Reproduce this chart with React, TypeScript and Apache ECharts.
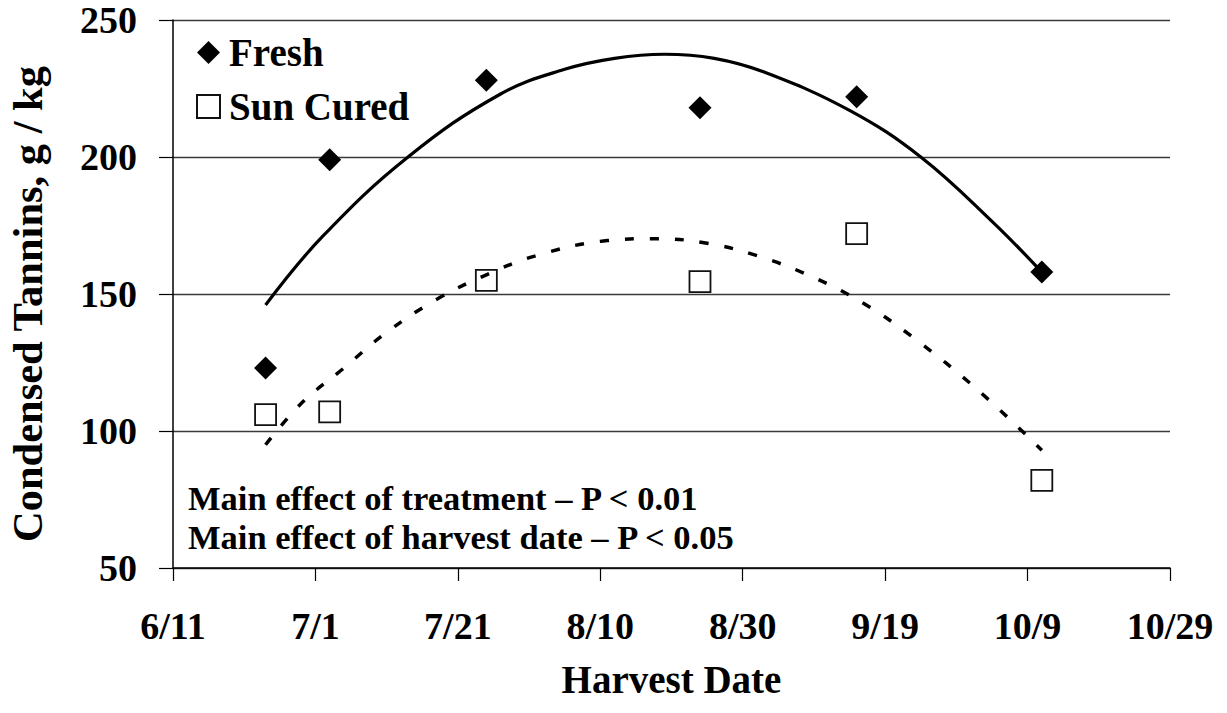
import React, { useEffect, useRef } from "react";
import * as echarts from "echarts";

// ---- data ----
const axisTickDates = ["6/11", "7/1", "7/21", "8/10", "8/30", "9/19", "10/9", "10/29"];
const yTicks = [50, 100, 150, 200, 250];

const harvestDates = ["6/24", "7/3", "7/25", "8/24", "9/15", "10/11"];
const freshValues = [123, 199, 228, 218, 222, 158];
const sunCuredValues = [106, 107, 155, 154.5, 172, 82];

// polynomial trend lines as drawn in the reference
const freshTrendDates = ["6/24", "7/2", "7/14", "7/27", "8/5", "8/12", "8/19", "8/26", "9/2", "9/14", "9/24", "10/4", "10/11"];
const freshTrendValues = [146, 171, 200, 223, 232, 236, 237.5, 236, 231, 217, 200, 176.5, 158];
const sunTrendDates = ["6/24", "6/29", "7/5", "7/11", "7/18", "7/25", "8/1", "8/11", "8/18", "8/25", "9/1", "9/9", "9/16", "9/23", "10/2", "10/11"];
const sunTrendValues = [95, 110, 123, 136, 148, 157, 164, 169.5, 170.2, 168.5, 164, 156, 146.5, 134, 115, 93];

const annotations = [
  "Main effect of treatment \u2013 P < 0.01",
  "Main effect of harvest date \u2013 P < 0.05",
];

// ---- helpers ----
const YEAR = 2003;
const ORIGIN = Date.UTC(YEAR, 5, 11);
const DAY = 86400000;
function dayOf(md: string): number {
  const [m, d] = md.split("/").map(Number);
  return Math.round((Date.UTC(YEAR, m - 1, d) - ORIGIN) / DAY);
}
function labelOf(day: number): string {
  const dt = new Date(ORIGIN + day * DAY);
  return `${dt.getUTCMonth() + 1}/${dt.getUTCDate()}`;
}

const FONT = "Liberation Serif";

export default function App() {
  const ref = useRef<HTMLDivElement>(null);

  useEffect(() => {
    if (!ref.current) return;
    const chart = echarts.init(ref.current, undefined, { renderer: "svg" });

    const xMin = dayOf(axisTickDates[0]);
    const xMax = dayOf(axisTickDates[axisTickDates.length - 1]);
    const xInterval = dayOf(axisTickDates[1]) - xMin;

    const option: any = {
      animation: false,
      backgroundColor: "#ffffff",
      grid: {
        left: 173,
        right: 57,
        top: 20,
        bottom: 145,
        containLabel: false,
        outerBoundsMode: "none",
      },
      legend: {
        data: ["Fresh", "Sun Cured"],
        orient: "vertical",
        left: 196,
        top: 33,
        itemWidth: 23,
        itemHeight: 23,
        itemGap: 15,
        padding: 0,
        selectedMode: false,
        textStyle: {
          fontFamily: FONT,
          fontWeight: "bold",
          fontSize: 39,
          color: "#000",
          padding: [0, 0, 0, 4],
        },
      },
      xAxis: {
        type: "value",
        min: xMin,
        max: xMax,
        interval: xInterval,
        name: "Harvest Date",
        nameLocation: "middle",
        nameGap: 92,
        nameTextStyle: { fontFamily: FONT, fontWeight: "bold", fontSize: 39, color: "#000" },
        axisLine: { show: true, onZero: false, lineStyle: { color: "#000", width: 1.5 } },
        axisTick: { show: true, inside: false, length: 13, lineStyle: { color: "#000", width: 1.2 } },
        axisLabel: {
          margin: 39,
          fontFamily: FONT,
          fontWeight: "bold",
          fontSize: 38,
          color: "#000",
          formatter: (v: number) => labelOf(v),
        },
        splitLine: { show: false },
      },
      yAxis: {
        type: "value",
        min: yTicks[0],
        max: yTicks[yTicks.length - 1],
        interval: yTicks[1] - yTicks[0],
        name: "Condensed Tannins, g / kg",
        nameLocation: "middle",
        nameGap: 124,
        nameTextStyle: {
          fontFamily: FONT,
          fontWeight: "bold",
          fontSize: 42.5,
          color: "#000",
          padding: [0, 20, 0, 0],
        },
        axisLine: { show: true, lineStyle: { color: "#000", width: 1.5 } },
        axisTick: { show: true, inside: false, length: 14, lineStyle: { color: "#000", width: 1.2 } },
        axisLabel: { margin: 36, fontFamily: FONT, fontWeight: "bold", fontSize: 38, color: "#000" },
        splitLine: { show: true, lineStyle: { color: "#3a3a3a", width: 1.4 } },
      },
      graphic: annotations.map((t, i) => ({
        type: "text",
        left: 188,
        top: 480 + i * 39,
        z: 10,
        style: {
          text: t,
          fontFamily: FONT,
          fontWeight: "bold",
          fontSize: 34.5,
          fill: "#000",
        },
      })),
      series: [
        {
          name: "Fresh",
          type: "scatter",
          symbol: "diamond",
          symbolSize: 23,
          itemStyle: { color: "#000", opacity: 1 },
          z: 2,
          data: harvestDates.map((d, i) => [dayOf(d), freshValues[i]]),
        },
        {
          name: "Sun Cured",
          type: "scatter",
          symbol: "rect",
          symbolSize: 21,
          itemStyle: { color: "#fff", borderColor: "#111", borderWidth: 1.8, opacity: 1 },
          z: 2,
          data: harvestDates.map((d, i) => [dayOf(d), sunCuredValues[i]]),
        },
        {
          name: "Fresh trend",
          type: "line",
          smooth: 0.4,
          showSymbol: false,
          silent: true,
          z: 3,
          lineStyle: { color: "#000", width: 3.2 },
          data: freshTrendDates.map((d, i) => [dayOf(d), freshTrendValues[i]]),
        },
        {
          name: "Sun Cured trend",
          type: "line",
          smooth: 0.4,
          showSymbol: false,
          silent: true,
          z: 3,
          lineStyle: { color: "#000", width: 3.5, type: [9, 16], cap: "butt" },
          data: sunTrendDates.map((d, i) => [dayOf(d), sunTrendValues[i]]),
        },
      ],
    };

    chart.setOption(option);
    return () => chart.dispose();
  }, []);

  return (
    <div
      ref={ref}
      style={{ position: "fixed", left: 0, top: 0, width: 1227, height: 713, background: "#fff" }}
    />
  );
}
